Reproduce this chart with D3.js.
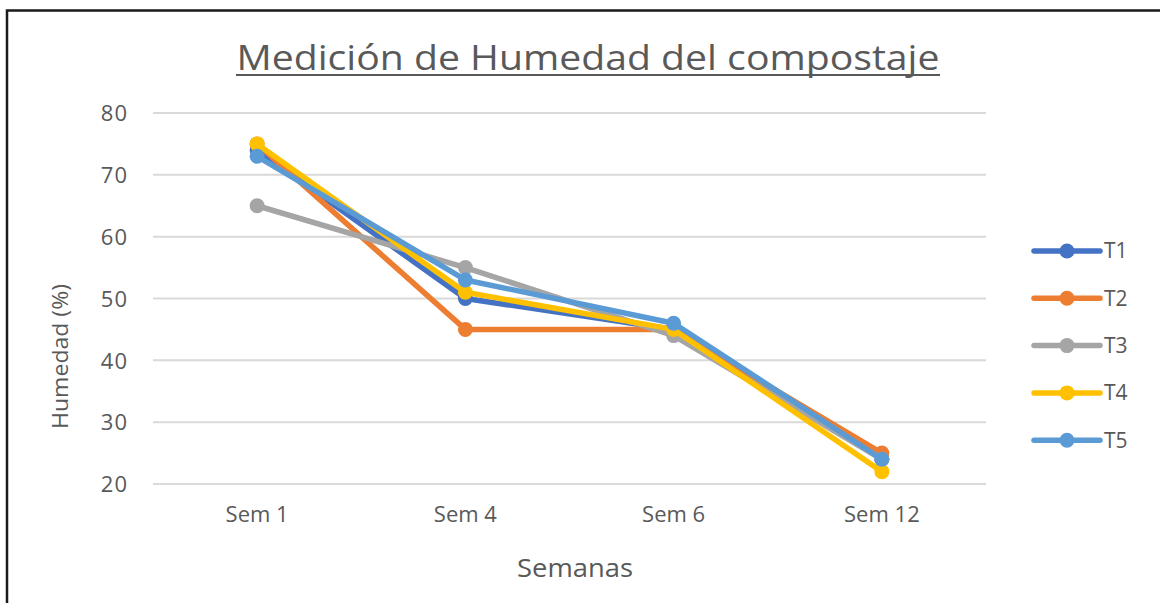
<!DOCTYPE html>
<html>
<head>
<meta charset="utf-8">
<script src="https://cdn.jsdelivr.net/npm/d3@7"></script>
<style>
  html, body { margin: 0; padding: 0; background: #fff; }
  svg { display: block; }
</style>
</head>
<body>
<svg id="chart" width="1160" height="603"></svg>
<script>
// Data
const weeks = ["Sem 1", "Sem 4", "Sem 6", "Sem 12"]
const seriesNames = ["T1", "T2", "T3", "T4", "T5"]
const t1 = [74, 50, 45, 24]
const t2 = [75, 45, 45, 25]
const t3 = [65, 55, 44, 24]
const t4 = [75, 51, 45, 22]
const t5 = [73, 53, 46, 24]
const yTicks = [20, 30, 40, 50, 60, 70, 80]
const colors = ["#4472c4", "#ed7d31", "#a5a5a5", "#ffc000", "#5b9bd5"]

const series = seriesNames.map((name, i) => ({
  name,
  values: [t1, t2, t3, t4, t5][i],
  color: colors[i]
}))

const svg = d3.select("#chart")
const textColor = "#595959"
const narrow = "'Liberation Sans Narrow', 'Open Sans', sans-serif"

// frame (top and left edges only, like the cropped screenshot)
svg.append("path")
  .attr("d", "M7,603 V10.5 H1160")
  .attr("fill", "none")
  .attr("stroke", "#1a1a1a")
  .attr("stroke-width", 2.5)

const plot = { left: 153, right: 986, top: 113, bottom: 484 }

const x = d3.scaleBand()
  .domain(weeks)
  .range([plot.left, plot.right])

const y = d3.scaleLinear()
  .domain([20, 80])
  .range([plot.bottom, plot.top])

// gridlines
svg.append("g")
  .selectAll("line")
  .data(yTicks)
  .join("line")
  .attr("x1", plot.left)
  .attr("x2", plot.right)
  .attr("y1", d => y(d))
  .attr("y2", d => y(d))
  .attr("stroke", "#d9d9d9")
  .attr("stroke-width", 2)

// y axis labels
const yAxis = svg.append("g")
  .attr("transform", `translate(${plot.left - 25},0)`)
  .call(d3.axisLeft(y).tickValues(yTicks).tickSize(0).tickPadding(0))
yAxis.select(".domain").remove()
yAxis.selectAll("text")
  .attr("font-family", "'Open Sans', sans-serif")
  .attr("font-size", 22)
  .attr("letter-spacing", 1)
  .attr("fill", textColor)
  .attr("dy", "0.35em")

// x axis labels
const xAxis = svg.append("g")
  .attr("transform", `translate(0,${plot.bottom + 19})`)
  .call(d3.axisBottom(x).tickSize(0).tickPadding(0))
xAxis.select(".domain").remove()
xAxis.selectAll("text")
  .attr("font-family", narrow)
  .attr("font-size", 22)
  .attr("fill", textColor)
  .attr("dy", "0.85em")

// axis titles
svg.append("text")
  .attr("x", 575)
  .attr("y", 577)
  .attr("text-anchor", "middle")
  .attr("font-family", narrow)
  .attr("font-size", 25)
  .attr("fill", textColor)
  .attr("textLength", 116)
  .attr("lengthAdjust", "spacingAndGlyphs")
  .text("Semanas")

svg.append("text")
  .attr("transform", `translate(68,${(plot.top + plot.bottom) / 2 + 58}) rotate(-90)`)
  .attr("text-anchor", "middle")
  .attr("font-family", "'Open Sans', sans-serif")
  .attr("font-size", 22)
  .attr("fill", textColor)
  .attr("textLength", 145)
  .attr("lengthAdjust", "spacingAndGlyphs")
  .text("Humedad (%)")

// title
svg.append("text")
  .attr("x", 588)
  .attr("y", 70)
  .attr("text-anchor", "middle")
  .attr("font-family", narrow)
  .attr("font-size", 34)
  .attr("fill", textColor)
  .attr("textLength", 703)
  .attr("lengthAdjust", "spacingAndGlyphs")
  .text("Medición de Humedad del compostaje")
svg.append("line")
  .attr("x1", 236).attr("x2", 940)
  .attr("y1", 75).attr("y2", 75)
  .attr("stroke", textColor)
  .attr("stroke-width", 2)

// lines and markers
const cx = d => x(d) + x.bandwidth() / 2
const line = d3.line()
  .x((d, i) => cx(weeks[i]))
  .y(d => y(d))

const groups = svg.append("g")
  .selectAll("g")
  .data(series)
  .join("g")

groups.append("path")
  .attr("d", d => line(d.values))
  .attr("fill", "none")
  .attr("stroke", d => d.color)
  .attr("stroke-width", 5.5)
  .attr("stroke-linejoin", "round")
  .attr("stroke-linecap", "round")

groups.selectAll("circle")
  .data(d => d.values.map((v, i) => ({ v, i, color: d.color })))
  .join("circle")
  .attr("cx", d => cx(weeks[d.i]))
  .attr("cy", d => y(d.v))
  .attr("r", 7.5)
  .attr("fill", d => d.color)

// legend
const legend = svg.append("g")
  .attr("transform", "translate(1034,251)")

const legendItems = legend.selectAll("g")
  .data(series)
  .join("g")
  .attr("transform", (d, i) => `translate(0,${i * 47.3})`)

legendItems.append("line")
  .attr("x1", 0).attr("x2", 66)
  .attr("stroke", d => d.color)
  .attr("stroke-width", 5.5)
  .attr("stroke-linecap", "round")

legendItems.append("circle")
  .attr("cx", 33)
  .attr("r", 7.5)
  .attr("fill", d => d.color)

legendItems.append("text")
  .attr("x", 70)
  .attr("dy", "0.35em")
  .attr("font-family", "'Open Sans', sans-serif")
  .attr("font-size", 21)
  .attr("fill", textColor)
  .text(d => d.name)
</script>
</body>
</html>
